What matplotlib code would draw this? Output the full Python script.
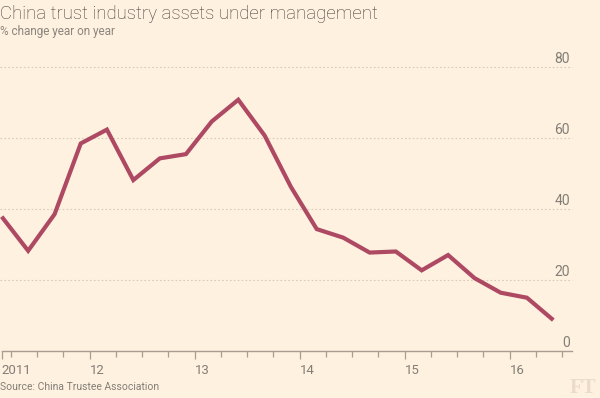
import matplotlib
matplotlib.use("Agg")
import matplotlib.pyplot as plt
import matplotlib.dates as mdates
import matplotlib.transforms as mtransforms
import pandas as pd

# quarterly data, % change year on year
dates = pd.date_range("2011-03-01", "2016-06-01", freq="3MS")
values = [37.8, 28.2, 38.5, 58.4, 62.3, 48.1, 54.2, 55.4, 64.6, 70.7, 60.6,
          46.2, 34.3, 31.9, 27.7, 28.0, 22.7, 27.0, 20.5, 16.4, 15.0, 8.7]

yticks = [0, 20, 40, 60, 80]
year_ticks = pd.to_datetime(["2011-03-01", "2012-01-01", "2013-01-01",
                             "2014-01-01", "2015-01-01", "2016-01-01"])
year_labels = ["2011", "12", "13", "14", "15", "16"]
quarter_ticks = pd.date_range("2011-04-01", "2016-07-01", freq="QS")

bg = "#fff1e0"
line_col = "#ad4962"
grey = "#827e76"
axis_col = "#a89d90"
grid_col = "#d8cbbb"

W, H = 600, 398
fig = plt.figure(figsize=(6, 3.98), dpi=100, facecolor=bg)
# axes placed in pixel units
left, right, top, bottom = 1.7, 572, 66.7, 351
ax = fig.add_axes([left / W, 1 - bottom / H, (right - left) / W, (bottom - top) / H])
ax.set_facecolor(bg)

ax.plot(dates, values, color=line_col, lw=3.0, solid_joinstyle="miter",
        solid_capstyle="butt", clip_on=False, zorder=3)

x0 = mdates.date2num(pd.Timestamp("2011-03-01"))
x_end = mdates.date2num(pd.Timestamp("2016-06-01")) + 65
ax.set_xlim(x0, x_end)
ax.set_ylim(0, 80)

for s in ["top", "right", "left"]:
    ax.spines[s].set_visible(False)
ax.spines["bottom"].set_color(axis_col)
ax.spines["bottom"].set_linewidth(1.0)

# dotted gridlines, stretching to the left edge of the figure
trans = mtransforms.blended_transform_factory(fig.transFigure, ax.transData)
for v in yticks[1:]:
    ax.plot([0, right / W], [v, v], transform=trans, color=grid_col, lw=0.8,
            ls=(0, (1.5, 2)), clip_on=False, zorder=1)

ax.set_yticks([])
ytrans = mtransforms.blended_transform_factory(ax.transAxes, ax.transData)
ytrans = ytrans + mtransforms.ScaledTranslation(-2 / 100, 4 / 100, fig.dpi_scale_trans)
for v in yticks:
    ax.text(1.0, v, str(v), transform=ytrans, ha="right", va="baseline",
            fontsize=10, color=grey, family="Roboto")

ax.set_xticks(mdates.date2num(year_ticks))
ax.set_xticklabels(year_labels)
ax.set_xticks(mdates.date2num(quarter_ticks), minor=True)
ax.tick_params(axis="x", which="major", length=6, width=0.9, color=axis_col,
               labelsize=9.5, labelcolor=grey, pad=3)
ax.tick_params(axis="x", which="minor", length=4, width=0.9, color=axis_col)
for lab in ax.get_xticklabels():
    lab.set_horizontalalignment("left")
    lab.set_family("Roboto")

fig.text(0, 1 - 14 / H, "China trust industry assets under management",
         ha="left", va="center", fontsize=13.4, color="#3d3b38",
         family="Roboto", weight="light")
fig.text(0, 1 - 32 / H, "% change year on year", ha="left", va="center",
         fontsize=8.5, color="#8a867e", family="Roboto")
fig.text(0, 1 - 387 / H, "Source: China Trustee Association", ha="left",
         va="center", fontsize=7.5, color=grey, family="Roboto")
fig.text(596 / W, 1 - 388 / H, "FT", ha="right", va="center", fontsize=15,
         color="#eadcc8", family="Liberation Serif", weight="bold")

fig.savefig("out.png", dpi=100, facecolor=bg)
